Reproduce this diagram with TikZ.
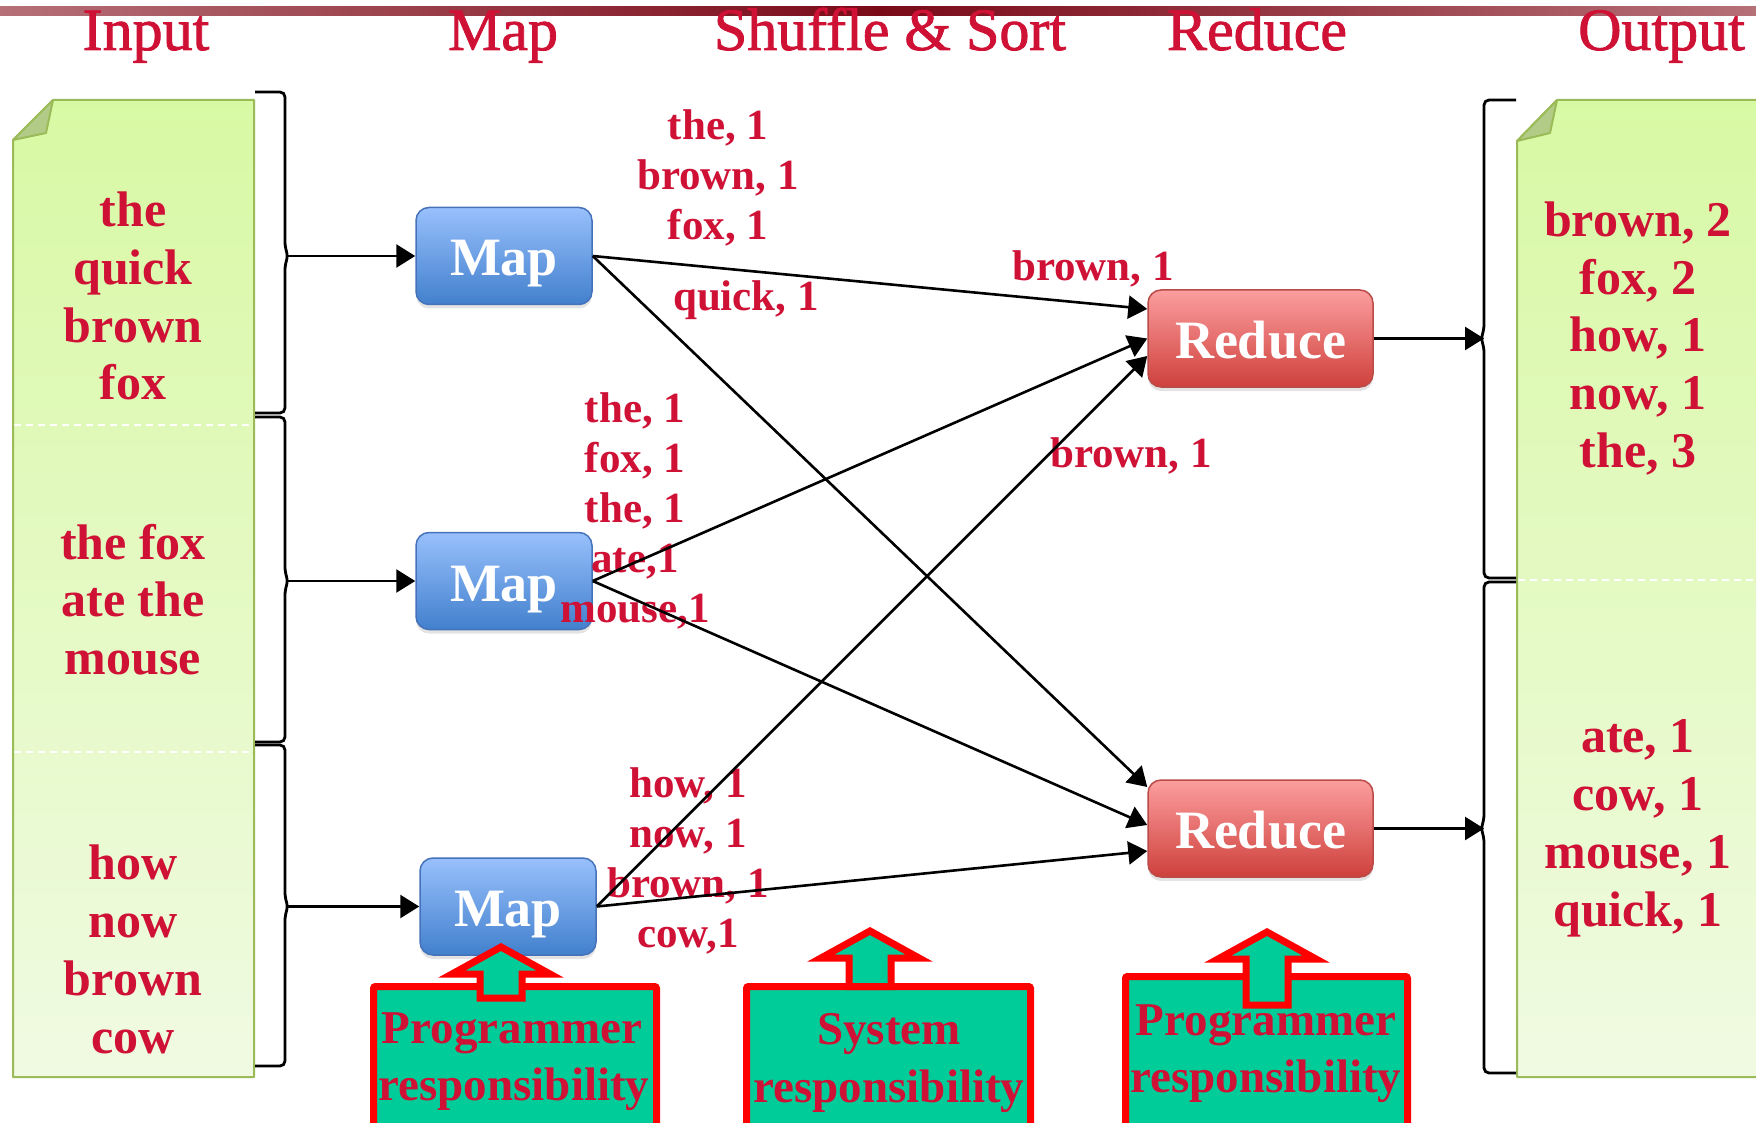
\documentclass[tikz,border=0pt]{standalone}
\usepackage{fontspec}
\setmainfont{Liberation Serif}
\newfontfamily\headfont[FakeBold=1.4]{Liberation Serif}
\usetikzlibrary{arrows.meta,shadows}

\definecolor{crimson}{RGB}{206,17,53}
\definecolor{noteTop}{RGB}{216,249,164}
\definecolor{noteBot}{RGB}{240,250,226}
\definecolor{noteEdge}{RGB}{155,187,89}
\definecolor{noteFold}{RGB}{178,203,135}
\definecolor{mapTop}{RGB}{152,192,252}
\definecolor{mapBot}{RGB}{66,128,205}
\definecolor{mapEdge}{RGB}{70,114,185}
\definecolor{redTop}{RGB}{252,158,158}
\definecolor{redBot}{RGB}{206,64,60}
\definecolor{redEdge}{RGB}{185,75,72}
\definecolor{tealfill}{RGB}{0,204,153}
\definecolor{barDark}{RGB}{122,10,24}
\definecolor{barLight}{RGB}{182,112,120}

% left-hand bracket grouping an input split: top, middle, bottom
\newcommand{\inbrace}[3]{%
  \draw[bracket] (255,#1) -- (285,#1) -- (285,{#2-9}) -- (288,#2) -- (285,{#2+9}) -- (285,#3) -- (255,#3);}
% right-hand bracket grouping an output part
\newcommand{\outbrace}[3]{%
  \draw[bracket] (1516,#1) -- (1484,#1) -- (1484,{#2-9}) -- (1481,#2) -- (1484,{#2+9}) -- (1484,#3) -- (1516,#3);}
% hollow up-arrow: x of axis, y of tip, y of shaft bottom
\newcommand{\upblock}[3]{%
  \filldraw[blockarrow] (#1,#2) -- ({#1+49},{#2+27}) -- ({#1+21},{#2+27}) -- ({#1+21},#3)
    -- ({#1-21},#3) -- ({#1-21},{#2+27}) -- ({#1-49},{#2+27}) -- cycle;}

\begin{document}
\begin{tikzpicture}[x=1pt,y=-1pt,
  head/.style={text=crimson, font=\headfont\fontsize{60}{62}\selectfont, anchor=base, inner sep=0pt},
  word/.style={text=crimson, font=\fontsize{50}{58}\selectfont\bfseries, anchor=base, inner sep=0pt},
  pair/.style={text=crimson, font=\fontsize{43}{50}\selectfont\bfseries, anchor=base, inner sep=0pt},
  resptext/.style={text=crimson, font=\fontsize{47}{57}\selectfont\bfseries, anchor=base, inner sep=0pt},
  procbox/.style={rounded corners=13pt, minimum height=97pt, line width=1.5pt, inner sep=0pt,
    text=white, font=\fontsize{54}{54}\selectfont\bfseries, text height=46pt, text depth=6pt,
    drop shadow={opacity=0.22, shadow xshift=0pt, shadow yshift=-4pt}},
  mapbox/.style={procbox, minimum width=176pt, draw=mapEdge, top color=mapTop, bottom color=mapBot},
  redbox/.style={procbox, minimum width=225pt, draw=redEdge, top color=redTop, bottom color=redBot},
  respbox/.style={draw=red, fill=tealfill, line width=7pt, rounded corners=2pt, outer sep=0pt,
    minimum height=170pt, anchor=north, inner sep=0pt},
  blockarrow/.style={draw=red, fill=tealfill, line width=7pt, line join=miter},
  bracket/.style={line width=2.8pt, rounded corners=5pt},
  conn/.style={line width=2.6pt, -{Triangle[length=19pt,width=23pt]}},
  notepaper/.style={top color=noteTop, bottom color=noteBot},
  noteline/.style={draw=noteEdge, line width=2pt, line join=round},
  splitline/.style={white, line width=1.6pt, dash pattern=on 7pt off 5pt}]

\useasboundingbox (0,0) rectangle (1756,1123);
\clip (0,0) rectangle (1756,1123);

% title band
\shade[left color=barLight, right color=barLight, middle color=barDark] (0,7) rectangle (1756,16);

% column headings
\node[head] (hIn)   at (146,50) {Input};
\node[head] (hMap)  at (503,50) {Map};
\node[head] (hShuf) at (890,50) {Shuffle \& Sort};
\node[head] (hRed)  at (1257,50) {Reduce};
\node[head, anchor=base west] (hOut) at (1578,50) {Output};

% input document
\path[notepaper] (13,140) -- (53,100) -- (254,100) -- (254,1077) -- (13,1077) -- cycle;
\draw[splitline] (14,425) -- (253,425);
\draw[splitline] (14,752) -- (253,752);
\draw[noteline] (13,140) -- (53,100) -- (254,100) -- (254,1077) -- (13,1077) -- cycle;
\filldraw[noteline, fill=noteFold] (13,140) -- (53,100) -- (46,133) -- cycle;

% output document
\path[notepaper] (1517,141) -- (1557,100) -- (1790,100) -- (1790,1077) -- (1517,1077) -- cycle;
\draw[splitline] (1518,580) -- (1756,580);
\draw[noteline] (1517,141) -- (1557,100) -- (1790,100) -- (1790,1077) -- (1517,1077) -- cycle;
\filldraw[noteline, fill=noteFold] (1517,141) -- (1557,100) -- (1550,133) -- cycle;

% input text
\foreach \w [count=\i] in {the,quick,brown,fox}
  \node[word] (inA-\i) at (133,{227+57.5*(\i-1)}) {\w};
\foreach \w [count=\i] in {the fox,ate the,mouse}
  \node[word] (inB-\i) at (133,{559+57.5*(\i-1)}) {\w};
\foreach \w [count=\i] in {how,now,brown,cow}
  \node[word] (inC-\i) at (133,{879+58*(\i-1)}) {\w};

% output text
\foreach \w [count=\i] in {{brown, 2},{fox, 2},{how, 1},{now, 1},{the, 3}}
  \node[word] (outA-\i) at (1638,{237+57.5*(\i-1)}) {\w};
\foreach \w [count=\i] in {{ate, 1},{cow, 1},{mouse, 1},{quick, 1}}
  \node[word] (outB-\i) at (1638,{752+58*(\i-1)}) {\w};

% brackets grouping the splits
\inbrace{92}{256}{413}
\inbrace{417}{581}{742}
\inbrace{745}{906.5}{1066}
\outbrace{100}{338.5}{578}
\outbrace{582}{828.5}{1073}
\coordinate (lb1) at (288,256);
\coordinate (lb2) at (288,581);
\coordinate (lb3) at (288,906.5);
\coordinate (rb1) at (1484,338.5);
\coordinate (rb2) at (1484,828.5);

% map and reduce tasks
\node[mapbox] (map1) at (504,256) {Map};
\node[mapbox] (map2) at (504,581) {Map};
\node[mapbox] (map3) at (508,906.5) {Map};
\node[redbox] (red1) at (1260.5,338.5) {Reduce};
\node[redbox] (red2) at (1260.5,828.5) {Reduce};

% intermediate key/value pairs
\foreach \w [count=\i] in {{the, 1},{brown, 1},{fox, 1}}
  \node[pair] (kvA-\i) at (718,{140+50*(\i-1)}) {\w};
\node[pair] (kvA-4) at (746,310) {quick, 1};
\foreach \w [count=\i] in {{the, 1},{fox, 1},{the, 1},{ate,1},{mouse,1}}
  \node[pair] (kvB-\i) at (635,{422+50.2*(\i-1)}) {\w};
\foreach \w [count=\i] in {{how, 1},{now, 1},{brown, 1},{cow,1}}
  \node[pair] (kvC-\i) at (688,{797+50.3*(\i-1)}) {\w};
\node[pair] (kvR1) at (1093,281) {brown, 1};
\node[pair] (kvR2) at (1131,467) {brown, 1};

% data flow
\draw[conn] (lb1) -- (map1.west);
\draw[conn] (lb2) -- (map2.west);
\draw[conn] (lb3) -- (map3.west);
\draw[conn] (map1.east) -- ([yshift=29.5pt]red1.west);
\draw[conn] (map1.east) -- ([yshift=41.5pt]red2.west);
\draw[conn] (map2.east) -- (red1.west);
\draw[conn] (map2.east) -- ([yshift=3.5pt]red2.west);
\draw[conn] (map3.east) -- ([yshift=-17.5pt]red1.west);
\draw[conn] (map3.east) -- ([yshift=-22.5pt]red2.west);
\draw[conn] (red1.east) -- (rb1);
\draw[conn] (red2.east) -- (rb2);

% responsibility call-outs
\node[respbox, minimum width=283pt] (resp1) at (515,986.5) {};
\node[respbox, minimum width=284pt] (resp2) at (888.5,986.5) {};
\node[respbox, minimum width=282pt] (resp3) at (1266.5,976.5) {};
\upblock{501}{947}{998}
\upblock{870}{931}{986.5}
\upblock{1267}{932}{1005}
\node[resptext] (resp1a) at (512,1043) {Programmer};
\node[resptext] (resp1b) at (514,1100) {responsibility};
\node[resptext] (resp2a) at (889,1044) {System};
\node[resptext] (resp2b) at (889,1102) {responsibility};
\node[resptext] (resp3a) at (1266,1035) {Programmer};
\node[resptext] (resp3b) at (1266,1092) {responsibility};
\end{tikzpicture}
\end{document}
